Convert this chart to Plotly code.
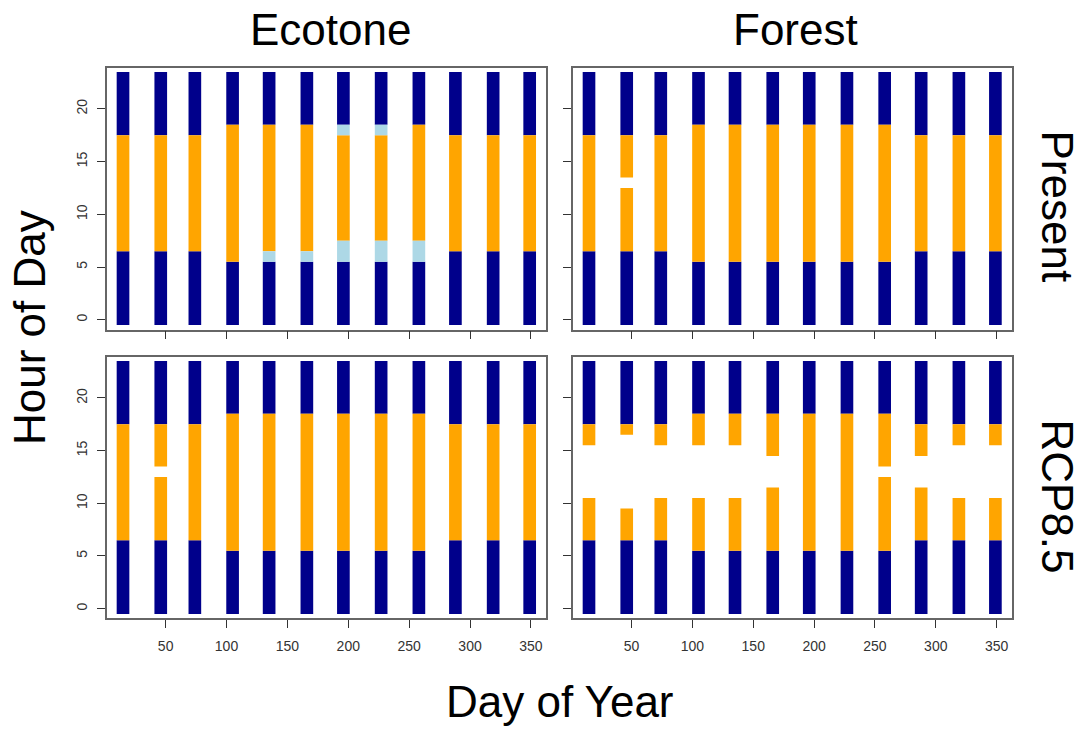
import plotly.graph_objects as go

# Mid-month day of year for each monthly column
days = [15, 46, 74, 105, 135, 166, 196, 227, 258, 288, 319, 349]

# Hourly state per column (index = hour 0..23):
# N = inactive night, A = active, L = partly active, . = no activity
ecotone_present = [
    "NNNNNNNAAAAAAAAAAANNNNNN",
    "NNNNNNNAAAAAAAAAAANNNNNN",
    "NNNNNNNAAAAAAAAAAANNNNNN",
    "NNNNNNAAAAAAAAAAAAANNNNN",
    "NNNNNNLAAAAAAAAAAAANNNNN",
    "NNNNNNLAAAAAAAAAAAANNNNN",
    "NNNNNNLLAAAAAAAAAALNNNNN",
    "NNNNNNLLAAAAAAAAAALNNNNN",
    "NNNNNNLLAAAAAAAAAAANNNNN",
    "NNNNNNNAAAAAAAAAAANNNNNN",
    "NNNNNNNAAAAAAAAAAANNNNNN",
    "NNNNNNNAAAAAAAAAAANNNNNN",
]
forest_present = [
    "NNNNNNNAAAAAAAAAAANNNNNN",
    "NNNNNNNAAAAAA.AAAANNNNNN",
    "NNNNNNNAAAAAAAAAAANNNNNN",
    "NNNNNNAAAAAAAAAAAAANNNNN",
    "NNNNNNAAAAAAAAAAAAANNNNN",
    "NNNNNNAAAAAAAAAAAAANNNNN",
    "NNNNNNAAAAAAAAAAAAANNNNN",
    "NNNNNNAAAAAAAAAAAAANNNNN",
    "NNNNNNAAAAAAAAAAAAANNNNN",
    "NNNNNNNAAAAAAAAAAANNNNNN",
    "NNNNNNNAAAAAAAAAAANNNNNN",
    "NNNNNNNAAAAAAAAAAANNNNNN",
]
ecotone_rcp85 = [
    "NNNNNNNAAAAAAAAAAANNNNNN",
    "NNNNNNNAAAAAA.AAAANNNNNN",
    "NNNNNNNAAAAAAAAAAANNNNNN",
    "NNNNNNAAAAAAAAAAAAANNNNN",
    "NNNNNNAAAAAAAAAAAAANNNNN",
    "NNNNNNAAAAAAAAAAAAANNNNN",
    "NNNNNNAAAAAAAAAAAAANNNNN",
    "NNNNNNAAAAAAAAAAAAANNNNN",
    "NNNNNNAAAAAAAAAAAAANNNNN",
    "NNNNNNNAAAAAAAAAAANNNNNN",
    "NNNNNNNAAAAAAAAAAANNNNNN",
    "NNNNNNNAAAAAAAAAAANNNNNN",
]
forest_rcp85 = [
    "NNNNNNNAAAA.....AANNNNNN",
    "NNNNNNNAAA.......ANNNNNN",
    "NNNNNNNAAAA.....AANNNNNN",
    "NNNNNNAAAAA.....AAANNNNN",
    "NNNNNNAAAAA.....AAANNNNN",
    "NNNNNNAAAAAA...AAAANNNNN",
    "NNNNNNAAAAAAAAAAAAANNNNN",
    "NNNNNNAAAAAAAAAAAAANNNNN",
    "NNNNNNAAAAAAA.AAAAANNNNN",
    "NNNNNNNAAAAA...AAANNNNNN",
    "NNNNNNNAAAA.....AANNNNNN",
    "NNNNNNNAAAA.....AANNNNNN",
]

col_titles = ["Ecotone", "Forest"]
row_titles = ["Present", "RCP8.5"]
x_ticks = [50, 100, 150, 200, 250, 300, 350]
y_ticks = [0, 5, 10, 15, 20]

state_colors = {"N": "#00008B", "A": "#FFA500", "L": "#ADD8E6"}

FONT = "Liberation Sans, Arial, Helvetica, sans-serif"
W, H = 1086, 730

# Panel boxes in pixels: (left, right, top, bottom)
left_x = (106.7, 546.0)
right_x = (572.7, 1011.7)
top_y = (67.5, 329.5)
bot_y = (356.7, 618.3)


def xdom(p):
    return [p[0] / W, p[1] / W]


def ydom(p):
    return [1 - p[1] / H, 1 - p[0] / H]


panels = [
    (ecotone_present, left_x, top_y, True, False),
    (forest_present, right_x, top_y, False, False),
    (ecotone_rcp85, left_x, bot_y, True, True),
    (forest_rcp85, right_x, bot_y, False, True),
]

fig = go.Figure()
layout = {}

for i, (grid, px, py, ylab, xlab) in enumerate(panels, start=1):
    xa = "x" if i == 1 else f"x{i}"
    ya = "y" if i == 1 else f"y{i}"
    # collapse consecutive hours of the same state into runs
    runs = {k: ([], [], []) for k in state_colors}
    for d, col in zip(days, grid):
        h = 0
        while h < 24:
            s = col[h]
            e = h
            while e + 1 < 24 and col[e + 1] == s:
                e += 1
            if s in state_colors:
                runs[s][0].append(d)
                runs[s][1].append(h - 0.5)
                runs[s][2].append(e - h + 1)
            h = e + 1
    for s, (xs, bs, ls) in runs.items():
        if not xs:
            continue
        fig.add_trace(go.Bar(
            x=xs, y=ls, base=bs, width=10.4,
            marker=dict(color=state_colors[s], line=dict(width=0)),
            xaxis=xa, yaxis=ya, showlegend=False, hoverinfo="skip",
        ))
    axis_common = dict(
        showline=True, mirror=True, linecolor="#666666", linewidth=1.5,
        showgrid=False, zeroline=False, ticks="outside", ticklen=8,
        tickwidth=1, tickcolor="#333333",
        tickfont=dict(family=FONT, size=14, color="#333333"),
    )
    layout["xaxis" if i == 1 else f"xaxis{i}"] = dict(
        axis_common, domain=xdom(px), range=[1.6, 362.4],
        tickvals=x_ticks, showticklabels=xlab, ticklabelstandoff=6,
        anchor=ya,
    )
    layout["yaxis" if i == 1 else f"yaxis{i}"] = dict(
        axis_common, domain=ydom(py), range=[-0.92, 23.92],
        tickvals=y_ticks, showticklabels=ylab, tickangle=-90,
        ticklabelstandoff=4, anchor=xa,
    )

annotations = []
big = dict(family=FONT, size=44, color="#000000")
for t, cx in zip(col_titles, [330, 795]):
    annotations.append(dict(text=t, x=cx / W, y=1 - 30 / H, xref="paper",
                            yref="paper", showarrow=False, font=big,
                            xanchor="center", yanchor="middle"))
for t, cy in zip(row_titles, [206.5, 496.5]):
    annotations.append(dict(text=t, x=1057 / W, y=1 - cy / H, xref="paper",
                            yref="paper", showarrow=False, font=big,
                            textangle=90, xanchor="center", yanchor="middle"))
annotations.append(dict(text="Hour of Day", x=30 / W, y=1 - 328 / H,
                        xref="paper", yref="paper", showarrow=False, font=big,
                        textangle=-90, xanchor="center", yanchor="middle"))
annotations.append(dict(text="Day of Year", x=560 / W, y=1 - 701 / H,
                        xref="paper", yref="paper", showarrow=False, font=big,
                        xanchor="center", yanchor="middle"))

fig.update_layout(
    **layout,
    annotations=annotations,
    barmode="overlay",
    width=W, height=H,
    margin=dict(l=0, r=0, t=0, b=0),
    paper_bgcolor="white", plot_bgcolor="white",
)

fig.write_html("out.html")
